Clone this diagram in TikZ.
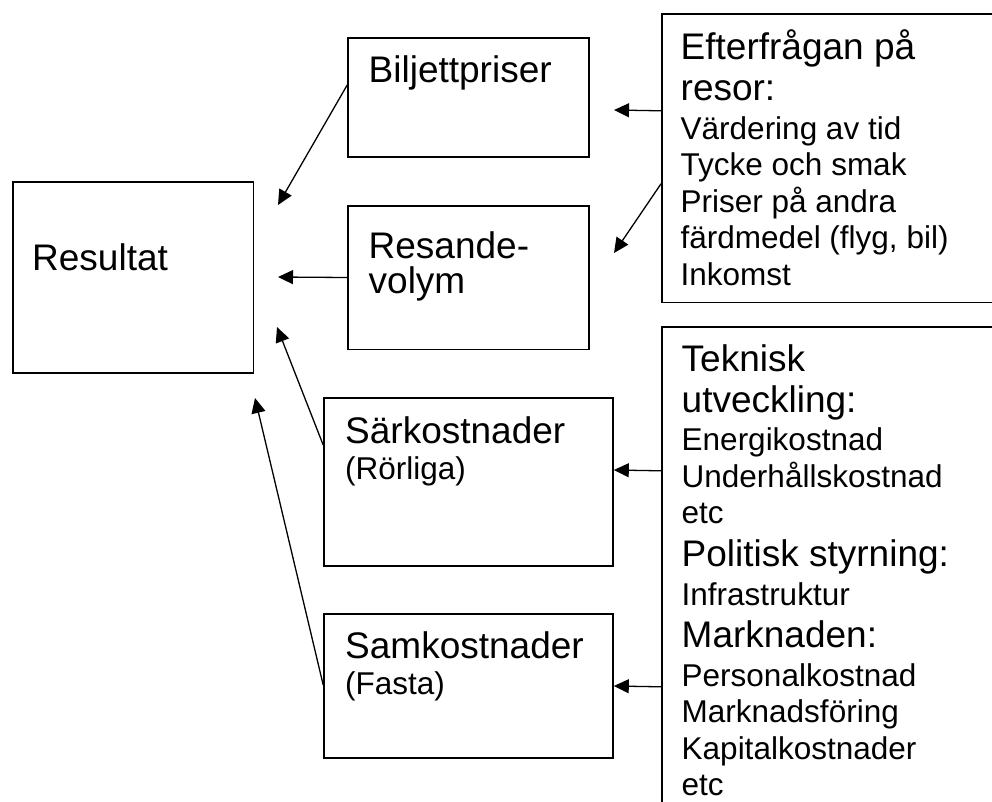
\documentclass[tikz,border=0pt]{standalone}
\usepackage{fontspec}
\setmainfont{Liberation Sans}
\usetikzlibrary{arrows.meta, calc}

\newcommand{\storfont}{\fontsize{37}{41}\selectfont\spaceskip=0pt\xspaceskip=0pt}
\newcommand{\litenfont}{\fontsize{31.5}{36.5}\selectfont\spaceskip=0pt\xspaceskip=0pt}

\tikzset{
  box/.style={draw, line width=1.6pt, inner sep=0pt},
  txt/.style={anchor=base west, inner sep=0pt, text width=#1, align=left},
  txt/.default=250pt,
  pil/.style={line width=1.3pt, -{Triangle[length=15pt,width=14pt]}}
}

\begin{document}
\begin{tikzpicture}[x=1pt, y=-1pt]
    \useasboundingbox (0,0) rectangle (992,801);
    % Rutor
    \node[box, minimum width=240.7pt, minimum height=191pt] (resultat) at (133.25,277.7) {};
    \node[box, minimum width=241pt, minimum height=119.5pt] (biljett) at (468.5,97.5) {};
    \node[box, minimum width=241pt, minimum height=143.6pt] (resande) at (468.5,277.5) {};
    \node[box, minimum width=289pt, minimum height=168pt] (sark) at (468.5,482) {};
    \node[box, minimum width=289pt, minimum height=144pt] (samk) at (468.5,686) {};
    \node[box, anchor=north west, minimum width=350pt, minimum height=288.4pt] (efterfragan) at (661,13.3) {};
    \node[box, anchor=north west, minimum width=350pt, minimum height=500pt] (faktorer) at (661,326) {};
    % Texter
    \node[txt] (resultat-txt) at (32,270) {\storfont Resultat\par};
    \node[txt] (biljett-txt) at (368.5,82.7) {\storfont Biljettpriser\par};
    \node[txt] (resande-txt) at (368.5,258.3) {\storfont Resande-\\[-6pt]volym\par};
    \node[txt] (sark-txt) at (345,443.3) {\storfont Särkostnader\par\litenfont (Rörliga)\par};
    \node[txt] (samk-txt) at (345,658.3) {\storfont Samkostnader\par\litenfont (Fasta)\par};
    \node[txt=300pt] (efterfragan-txt) at (680.5,59.3) {\storfont Efterfrågan på\\resor:\par
        \litenfont\vspace{2.3pt}Värdering av tid\\Tycke och smak\\Priser på andra\\färdmedel (flyg, bil)\\Inkomst\par};
    \node[txt=300pt] (faktorer-txt) at (681.5,371) {\storfont Teknisk\\utveckling:\par
        \litenfont\vspace{2.3pt}Energikostnad\\Underhållskostnad\\etc\par
        \storfont\vspace{1.5pt}Politisk styrning:\par
        \litenfont\vspace{2.3pt}Infrastruktur\par
        \storfont\vspace{1.5pt}Marknaden:\par
        \litenfont\vspace{2.3pt}Personalkostnad\\Marknadsföring\\Kapitalkostnader\\etc\par};
    % Fria pilspetsar
    \coordinate (spets1) at (278,205);
    \coordinate (spets2) at (278,277);
    \coordinate (spets3) at (277,327);
    \coordinate (spets4) at (255,398);
    \coordinate (spets5) at (614,110);
    \coordinate (spets6) at (614,253);
    % Pilar
    \draw[pil] ([yshift=12.5pt]biljett.west) -- (spets1);
    \draw[pil] (resande.west) -- (spets2);
    \draw[pil] ([yshift=37pt]sark.west) -- (spets3);
    \draw[pil] ([yshift=1pt]samk.west) -- (spets4);
    \draw[pil] ([yshift=47.5pt]efterfragan.west) -- (spets5);
    \draw[pil] ([yshift=-25.5pt]efterfragan.west) -- (spets6);
    \draw[pil] ([yshift=106pt]faktorer.west) -- ([yshift=12pt]sark.east);
    \draw[pil] ([yshift=-110pt]faktorer.west) -- (samk.east);
\end{tikzpicture}
\end{document}
